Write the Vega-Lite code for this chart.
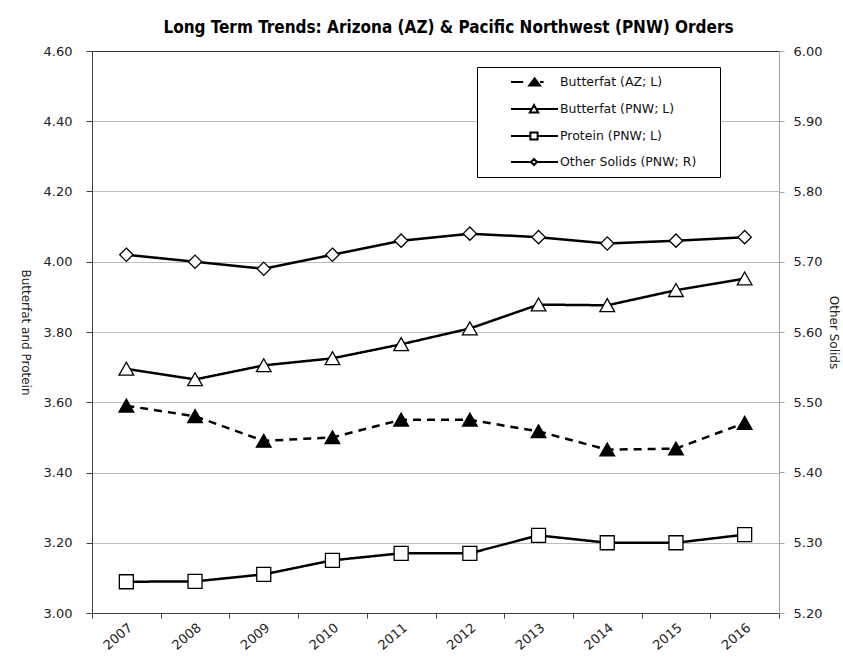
{
  "$schema": "https://vega.github.io/schema/vega-lite/v6.json",
  "width": 687,
  "height": 562,
  "autosize": {"type": "none"},
  "padding": {"left": 92, "top": 51, "right": 64, "bottom": 55},
  "background": "white",
  "title": {
    "text": "Long Term Trends: Arizona (AZ) & Pacific Northwest (PNW) Orders",
    "font": "DejaVu Sans Condensed, DejaVu Sans",
    "fontSize": 17,
    "fontWeight": "bold",
    "color": "#000000",
    "anchor": "middle",
    "dx": 13,
    "offset": 8
  },
  "data": {
    "values": [
      {"year": "2007", "series": "Butterfat (AZ; L)", "value": 3.59},
      {"year": "2008", "series": "Butterfat (AZ; L)", "value": 3.56},
      {"year": "2009", "series": "Butterfat (AZ; L)", "value": 3.49},
      {"year": "2010", "series": "Butterfat (AZ; L)", "value": 3.50},
      {"year": "2011", "series": "Butterfat (AZ; L)", "value": 3.55},
      {"year": "2012", "series": "Butterfat (AZ; L)", "value": 3.55},
      {"year": "2013", "series": "Butterfat (AZ; L)", "value": 3.517},
      {"year": "2014", "series": "Butterfat (AZ; L)", "value": 3.465},
      {"year": "2015", "series": "Butterfat (AZ; L)", "value": 3.468},
      {"year": "2016", "series": "Butterfat (AZ; L)", "value": 3.541},
      {"year": "2007", "series": "Butterfat (PNW; L)", "value": 3.695},
      {"year": "2008", "series": "Butterfat (PNW; L)", "value": 3.665},
      {"year": "2009", "series": "Butterfat (PNW; L)", "value": 3.705},
      {"year": "2010", "series": "Butterfat (PNW; L)", "value": 3.725},
      {"year": "2011", "series": "Butterfat (PNW; L)", "value": 3.765},
      {"year": "2012", "series": "Butterfat (PNW; L)", "value": 3.81},
      {"year": "2013", "series": "Butterfat (PNW; L)", "value": 3.878},
      {"year": "2014", "series": "Butterfat (PNW; L)", "value": 3.876},
      {"year": "2015", "series": "Butterfat (PNW; L)", "value": 3.919},
      {"year": "2016", "series": "Butterfat (PNW; L)", "value": 3.952},
      {"year": "2007", "series": "Protein (PNW; L)", "value": 3.089},
      {"year": "2008", "series": "Protein (PNW; L)", "value": 3.09},
      {"year": "2009", "series": "Protein (PNW; L)", "value": 3.11},
      {"year": "2010", "series": "Protein (PNW; L)", "value": 3.15},
      {"year": "2011", "series": "Protein (PNW; L)", "value": 3.17},
      {"year": "2012", "series": "Protein (PNW; L)", "value": 3.17},
      {"year": "2013", "series": "Protein (PNW; L)", "value": 3.221},
      {"year": "2014", "series": "Protein (PNW; L)", "value": 3.20},
      {"year": "2015", "series": "Protein (PNW; L)", "value": 3.20},
      {"year": "2016", "series": "Protein (PNW; L)", "value": 3.223},
      {"year": "2007", "series": "Other Solids (PNW; R)", "value": 5.71},
      {"year": "2008", "series": "Other Solids (PNW; R)", "value": 5.70},
      {"year": "2009", "series": "Other Solids (PNW; R)", "value": 5.69},
      {"year": "2010", "series": "Other Solids (PNW; R)", "value": 5.71},
      {"year": "2011", "series": "Other Solids (PNW; R)", "value": 5.73},
      {"year": "2012", "series": "Other Solids (PNW; R)", "value": 5.74},
      {"year": "2013", "series": "Other Solids (PNW; R)", "value": 5.735},
      {"year": "2014", "series": "Other Solids (PNW; R)", "value": 5.726},
      {"year": "2015", "series": "Other Solids (PNW; R)", "value": 5.73},
      {"year": "2016", "series": "Other Solids (PNW; R)", "value": 5.735}
    ]
  },
  "encoding": {
    "x": {
      "field": "year",
      "type": "ordinal",
      "scale": {"type": "band", "paddingInner": 0, "paddingOuter": 0},
      "axis": {
        "title": null,
        "tickBand": "extent",
        "labelAngle": -40,
        "labelAlign": "right",
        "labelBaseline": "top",
        "labelPadding": 3,
        "tickSize": 5,
        "domainColor": "#404040",
        "tickColor": "#404040",
        "labelFont": "DejaVu Sans",
        "labelFontSize": 13,
        "labelColor": "#222222",
        "grid": false
      }
    }
  },
  "layer": [
    {
      "transform": [{"filter": "datum.series !== 'Other Solids (PNW; R)'"}],
      "encoding": {
        "y": {
          "field": "value",
          "type": "quantitative",
          "scale": {"domain": [3, 4.6], "nice": false, "zero": false},
          "axis": {
            "orient": "left",
            "values": [3, 3.2, 3.4, 3.6, 3.8, 4, 4.2, 4.4, 4.6],
            "format": ".2f",
            "title": "Butterfat and Protein",
            "titleAngle": 90,
            "titleFont": "DejaVu Sans",
            "titleFontSize": 12,
            "titleFontWeight": "normal",
            "titleColor": "#222222",
            "titlePadding": 25,
            "labelFont": "DejaVu Sans",
            "labelFontSize": 13,
            "labelColor": "#222222",
            "labelPadding": 14,
            "tickSize": 6,
            "domainColor": "#404040",
            "tickColor": "#404040",
            "grid": true,
            "gridColor": {"condition": {"test": "datum.value >= 4.59", "value": "#333333"}, "value": "#bdbdbd"},
            "gridWidth": 1
          }
        }
      },
      "layer": [
        {
          "mark": {"type": "line", "color": "black", "strokeWidth": 2.5},
          "encoding": {
            "detail": {"field": "series"},
            "strokeDash": {
              "field": "series",
              "type": "nominal",
              "scale": {
                "domain": ["Butterfat (AZ; L)", "Butterfat (PNW; L)", "Protein (PNW; L)"],
                "range": [[8, 6], [1, 0], [1, 0]]
              },
              "legend": null
            }
          }
        },
        {
          "mark": {"type": "point", "filled": true, "size": 196, "stroke": "black", "strokeWidth": 1.3, "opacity": 1},
          "encoding": {
            "shape": {
              "field": "series",
              "type": "nominal",
              "scale": {
                "domain": ["Butterfat (AZ; L)", "Butterfat (PNW; L)", "Protein (PNW; L)"],
                "range": ["M0,-0.95L1.05,0.9L-1.05,0.9Z", "M0,-0.95L1.05,0.9L-1.05,0.9Z", "M-1,-1L1,-1L1,1L-1,1Z"]
              },
              "legend": null
            },
            "fill": {
              "field": "series",
              "type": "nominal",
              "scale": {
                "domain": ["Butterfat (AZ; L)", "Butterfat (PNW; L)", "Protein (PNW; L)"],
                "range": ["black", "white", "white"]
              },
              "legend": null
            }
          }
        }
      ]
    },
    {
      "transform": [{"filter": "datum.series === 'Other Solids (PNW; R)'"}],
      "encoding": {
        "y": {
          "field": "value",
          "type": "quantitative",
          "scale": {"domain": [5.2, 6.0], "nice": false, "zero": false},
          "axis": {
            "orient": "right",
            "values": [5.2, 5.3, 5.4, 5.5, 5.6, 5.7, 5.8, 5.9, 6.0],
            "format": ".2f",
            "title": "Other Solids",
            "titleAngle": 90,
            "titleFont": "DejaVu Sans",
            "titleFontSize": 12,
            "titleFontWeight": "normal",
            "titleColor": "#222222",
            "titlePadding": 5,
            "labelFont": "DejaVu Sans",
            "labelFontSize": 13,
            "labelColor": "#222222",
            "labelPadding": 9,
            "tickSize": 5,
            "domainColor": "#a6a6a6",
            "tickColor": "#a6a6a6",
            "grid": false
          }
        }
      },
      "layer": [
        {
          "mark": {"type": "line", "color": "black", "strokeWidth": 2.5},
          "encoding": {}
        },
        {
          "mark": {"type": "point", "filled": true, "size": 196, "shape": "M0,-0.95L0.95,0L0,0.95L-0.95,0Z", "fill": "white", "stroke": "black", "strokeWidth": 1.3, "opacity": 1},
          "encoding": {}
        }
      ]
    },
    {
      "mark": {"type": "point", "filled": true, "opacity": 0, "size": 144, "stroke": "black", "strokeWidth": 2},
      "encoding": {
        "shape": {
          "field": "series",
          "type": "nominal",
          "scale": {
            "domain": ["Butterfat (AZ; L)", "Butterfat (PNW; L)", "Protein (PNW; L)", "Other Solids (PNW; R)"],
            "range": [
              "M3.17,0L5.2,0M6.2,0.6L7.1,-0.6L8,0.6ZM8,0L8.6,0M36,0",
              "M3.17,0L6.65,0M7.35,0L11,0M7,-0.65L7.7,0.6L6.3,0.6ZM36,0",
              "M3.17,0L6.4,0M7.6,0L11,0M6.4,-0.6L7.6,-0.6L7.6,0.6L6.4,0.6ZM36,0",
              "M3.17,0L6.5,0M7.5,0L11,0M7,-0.5L7.5,0L7,0.5L6.5,0ZM36,0"
            ]
          },
          "legend": {
            "title": null,
            "orient": "none",
            "legendX": 385,
            "legendY": 16,
            "padding": 8,
            "strokeColor": "black",
            "fillColor": "white",
            "symbolSize": 144,
            "symbolStrokeWidth": 2,
            "symbolStrokeColor": "black",
            "symbolOpacity": 1,
            "labelOffset": 61,
            "rowPadding": 11,
            "labelFont": "DejaVu Sans",
            "labelFontSize": 12.5,
            "labelColor": "#111111",
            "encode": {"symbols": {"update": {"opacity": {"value": 1}}}}
          }
        },
        "fill": {
          "field": "series",
          "type": "nominal",
          "scale": {
            "domain": ["Butterfat (AZ; L)", "Butterfat (PNW; L)", "Protein (PNW; L)", "Other Solids (PNW; R)"],
            "range": ["black", "white", "white", "white"]
          },
          "legend": {
            "title": null,
            "orient": "none",
            "legendX": 385,
            "legendY": 16,
            "padding": 8,
            "strokeColor": "black",
            "fillColor": "white",
            "symbolSize": 144,
            "symbolStrokeWidth": 2,
            "symbolStrokeColor": "black",
            "symbolOpacity": 1,
            "labelOffset": 61,
            "rowPadding": 11,
            "labelFont": "DejaVu Sans",
            "labelFontSize": 12.5,
            "labelColor": "#111111",
            "encode": {"symbols": {"update": {"opacity": {"value": 1}}}}
          }
        }
      }
    }
  ],
  "resolve": {
    "scale": {"y": "independent", "shape": "independent", "fill": "independent", "strokeDash": "independent"},
    "legend": {"shape": "independent", "fill": "independent"}
  },
  "config": {
    "view": {"stroke": null},
    "axis": {"labelFont": "DejaVu Sans"}
  }
}
